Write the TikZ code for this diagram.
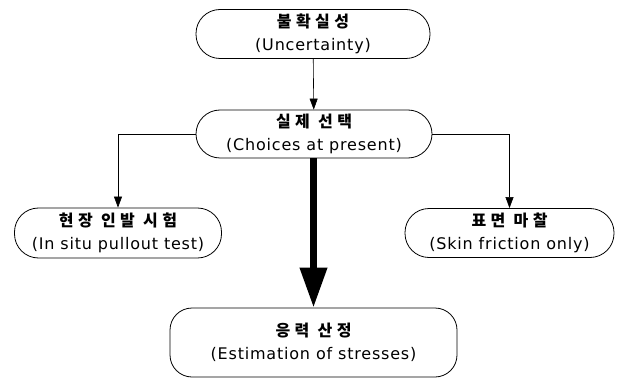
\documentclass[tikz,border=0pt]{standalone}
\usepackage{fontspec}
\setmainfont{DejaVu Sans}[LetterSpace=5]
\newfontfamily\krfont{Noto Sans CJK KR}[LetterSpace=28]
\usetikzlibrary{arrows.meta}

\newcommand\krline[1]{{\krfont\bfseries #1}}

\begin{document}
\begin{tikzpicture}[x=1pt,y=-1pt]
  % Styles
  \tikzstyle{stage}=[draw,line width=0.8pt,rounded corners=24pt,align=center,
                     inner sep=0pt,font=\fontsize{16}{23}\selectfont]
  \tikzstyle{thin arrow}=[line width=0.6pt,-{Triangle[length=11pt,width=8pt]}]
  \tikzstyle{thick arrow}=[line width=7pt,-{Triangle[length=40pt,width=26pt]}]

  \useasboundingbox (0,0) rectangle (617,379);

  % Key Nodes
  \node[stage,minimum width=234pt,minimum height=49pt] (uncert) at (313,34)
    {\krline{불확실성}\\(Uncertainty)};
  \node[stage,minimum width=236pt,minimum height=48pt] (choice) at (314,134)
    {\krline{실제 선택}\\(Choices at present)};
  \node[stage,minimum width=207pt,minimum height=50pt] (pullout) at (118,233)
    {\krline{현장 인발 시험}\\(In situ pullout test)};
  \node[stage,minimum width=209pt,minimum height=49pt] (friction) at (509.5,233)
    {\krline{표면 마찰}\\(Skin friction only)};
  \node[stage,rounded corners=22pt,minimum width=287pt,minimum height=69pt] (stress) at (313.5,342.5)
    {\krline{응력 산정}\\(Estimation of stresses)};

  % Connectors
  \draw[thin arrow] (uncert) -- (choice);
  \draw[thin arrow] (choice.west) -| (pullout.north);
  \draw[thin arrow] (choice.east) -| (friction.north);
  \draw[thick arrow] (choice.south -| stress.north) -- (stress.north);

\end{tikzpicture}
\end{document}
